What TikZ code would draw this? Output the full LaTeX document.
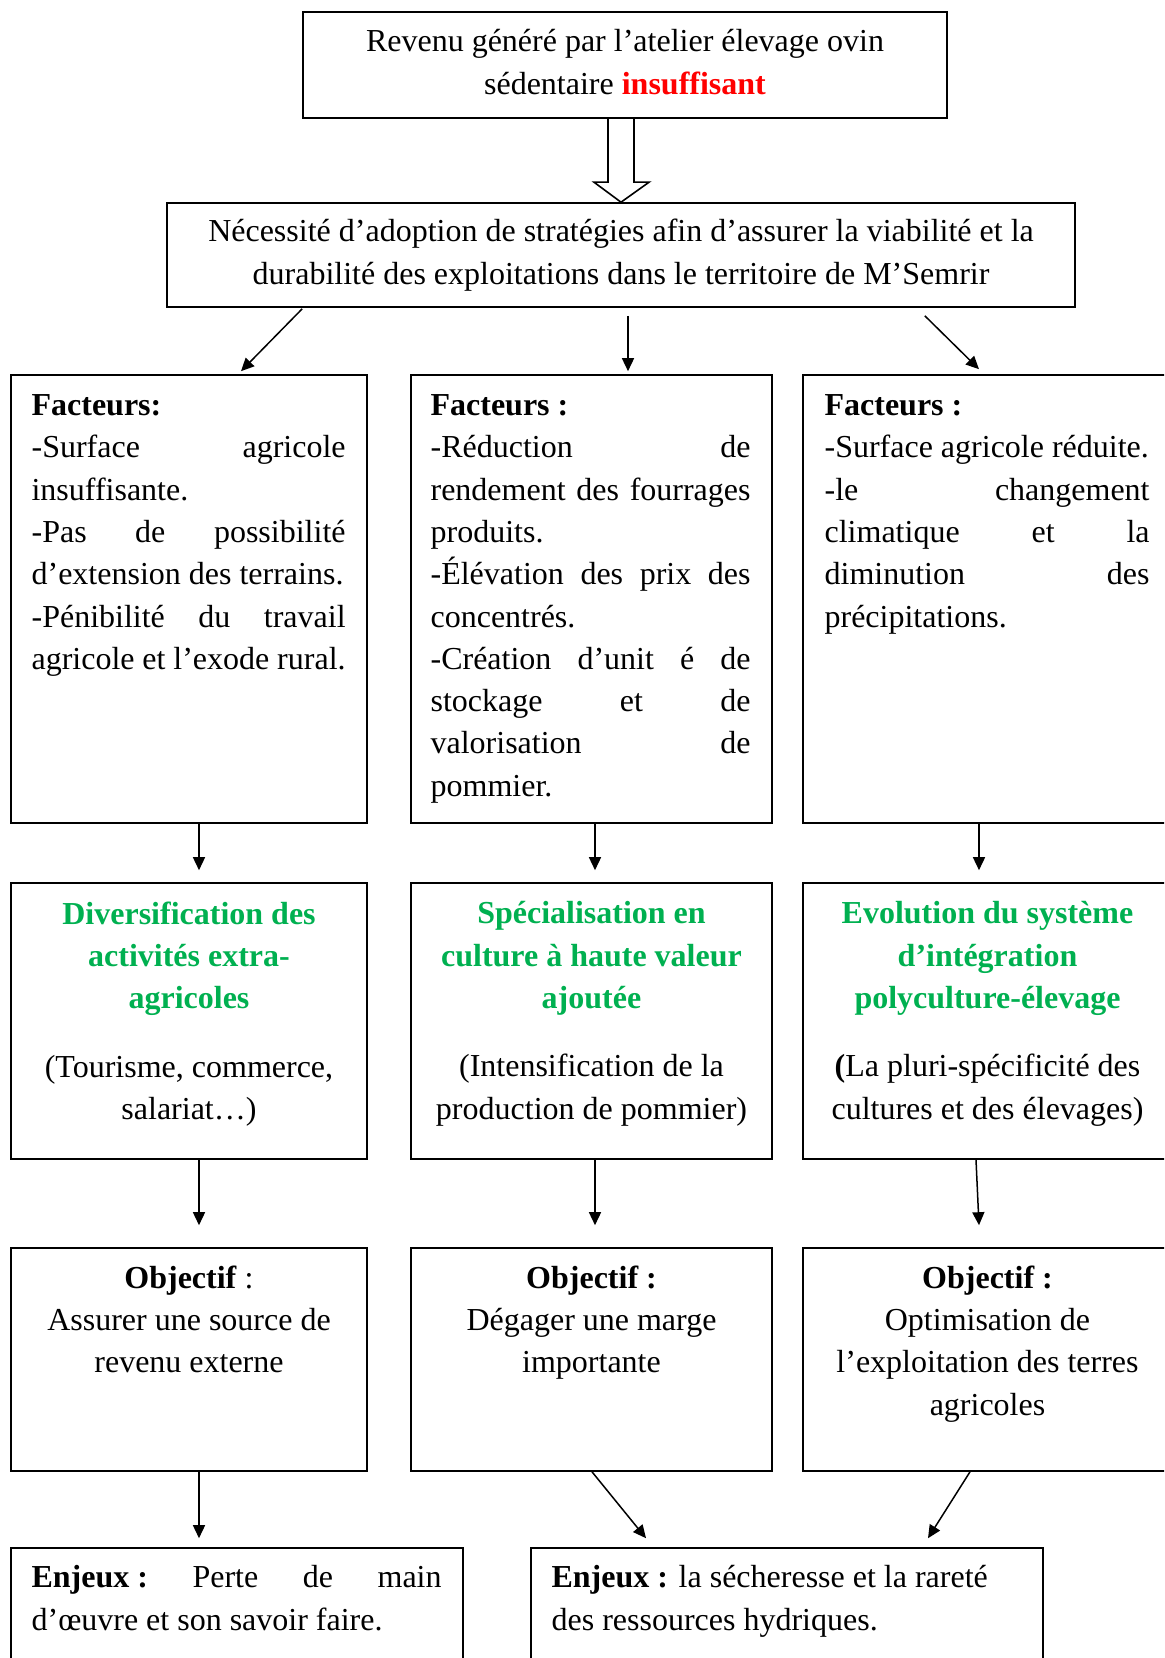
\documentclass[tikz,border=0pt]{standalone}
\usepackage{fontspec}
\setmainfont{Liberation Serif}
\usetikzlibrary{calc,arrows.meta}
\definecolor{vert}{HTML}{00B050}
\definecolor{rouge}{HTML}{FF0000}
\hyphenpenalty=10000
\exhyphenpenalty=10000
\setlength{\parindent}{0pt}

\tikzset{
  box/.style={draw, line width=0.8pt, inner sep=0pt},
  txt/.style={font=\fontsize{16}{21.15}\selectfont, inner sep=0pt},
  jtxt/.style={txt, align=justify, anchor=north west},
  ctxt/.style={txt, align=flush center, anchor=north, text width=172pt},
  arr/.style={line width=0.75pt, -{Triangle[length=6.5pt,width=6pt]}}
}

\begin{document}
\begin{tikzpicture}[x=0.5pt, y=-0.5pt]
    \useasboundingbox (0,0) rectangle (1164,1658);
    \clip (0,0) rectangle (1164,1658);

    % haut
    \node[box, minimum width=322pt, minimum height=53pt] (rev) at (625,65) {};
    \node[ctxt, text width=322pt] (revt) at ($(rev.north)+(0,18)$)
      {Revenu généré par l’atelier élevage ovin\\sédentaire {\color{rouge}\bfseries insuffisant}};
    \node[box, txt, align=center, minimum width=454pt, minimum height=52pt] (nec) at (621,255)
      {Nécessité d’adoption de stratégies afin d’assurer la viabilité et la\\durabilité des exploitations dans le territoire de M’Semrir};

    % facteurs
    \node[box, minimum width=178pt, minimum height=224pt] (fac1) at (189,599) {};
    \node[box, minimum width=180.5pt, minimum height=224pt] (fac2) at (591.5,599) {};
    \node[box, minimum width=184.5pt, minimum height=224pt] (fac3) at (987.5,599) {};
    \node[jtxt, text width=157pt] (fac1t) at ($(fac1.north west)+(21,20)$)
      {\textbf{Facteurs:}\par
       -Surface agricole\linebreak insuffisante.\par
       -Pas de possibilité\linebreak d’extension des terrains.\par
       -Pénibilité du travail\linebreak agricole et l’exode rural.};
    \node[jtxt, text width=160pt] (fac2t) at ($(fac2.north west)+(20,20)$)
      {\textbf{Facteurs :}\par
       -Réduction de\linebreak rendement des fourrages\linebreak produits.\par
       -Élévation des prix des\linebreak concentrés.\par
       -Création d’unit é de\linebreak stockage et de\linebreak valorisation de\linebreak pommier.};
    \node[jtxt, text width=162.5pt] (fac3t) at ($(fac3.north west)+(22,20)$)
      {\textbf{Facteurs :}\par
       -Surface agricole réduite.\par
       -le changement\linebreak climatique et la\linebreak diminution des\linebreak précipitations.};

    % strategies
    \node[box, minimum width=178pt, minimum height=138pt] (str1) at (189,1021) {};
    \node[box, minimum width=180.5pt, minimum height=138pt] (str2) at (591.5,1021) {};
    \node[box, minimum width=184.5pt, minimum height=138pt] (str3) at (987.5,1021) {};
    \node[ctxt] (str1t) at ($(str1.north)+(0,19)$)
      {{\color{vert}\bfseries Diversification des\\activités extra-\\agricoles}\\[13pt]
       (Tourisme, commerce,\\salariat…)};
    \node[ctxt] (str2t) at ($(str2.north)+(0,19)$)
      {{\color{vert}\bfseries Spécialisation en\\culture à haute valeur\\ajoutée}\\[13pt]
       (Intensification de la\\production de pommier)};
    \node[ctxt] (str3t) at ($(str3.north)+(0,19)$)
      {{\color{vert}\bfseries Evolution du système\\d’intégration\\polyculture-élevage}\\[13pt]
       \textbf{(}La pluri-spécificité des\\cultures et des élevages)};

    % objectifs
    \node[box, minimum width=178pt, minimum height=111.5pt] (obj1) at (189,1359.5) {};
    \node[box, minimum width=180.5pt, minimum height=111.5pt] (obj2) at (591.5,1359.5) {};
    \node[box, minimum width=184.5pt, minimum height=111.5pt] (obj3) at (987.5,1359.5) {};
    \node[ctxt] (obj1t) at ($(obj1.north)+(0,18)$)
      {\textbf{Objectif} :\\Assurer une source de\\revenu externe};
    \node[ctxt] (obj2t) at ($(obj2.north)+(0,18)$)
      {\textbf{Objectif :}\\Dégager une marge\\importante};
    \node[ctxt] (obj3t) at ($(obj3.north)+(0,18)$)
      {\textbf{Objectif :}\\Optimisation de\\l’exploitation des terres\\agricoles};

    % enjeux
    \node[box, minimum width=226pt, minimum height=76pt] (enj1) at (237,1624) {};
    \node[box, minimum width=256pt, minimum height=76pt] (enj2) at (787,1624) {};
    \node[jtxt, text width=205pt] (enj1t) at ($(enj1.north west)+(21,18)$)
      {\mbox{\textbf{Enjeux :}} Perte de main\linebreak d’œuvre et son savoir faire.};
    \node[jtxt, text width=235pt] (enj2t) at ($(enj2.north west)+(21,18)$)
      {\textbf{Enjeux :} la sécheresse et la rareté\\des ressources hydriques.};

    % fleche creuse
    \coordinate (pointe) at (nec.north);
    \draw[line width=0.8pt] ($(pointe |- rev.south)+(-13,0)$) -- ($(pointe)+(-13,-20)$)
      -- ($(pointe)+(-27,-20)$) -- (pointe) -- ($(pointe)+(28,-20)$)
      -- ($(pointe)+(13,-20)$) -- ($(pointe |- rev.south)+(13,0)$);

    % fleches
    \draw[arr] ($(nec.south west)+(136,1)$) -- ($(fac1.north)+(52,-3)$);
    \draw[arr] ($(nec.south)+(7,8)$) -- ($(fac2.north)+(36.5,-3)$);
    \draw[arr] ($(nec.south east)+(-151,8)$) -- ($(fac3.north)+(-8.5,-5)$);

    \draw[arr] ($(fac1.south)+(10,0)$) -- ($(str1.north)+(10,-12)$);
    \draw[arr] ($(fac2.south)+(3.5,0)$) -- ($(str2.north)+(3.5,-12)$);
    \draw[arr] ($(fac3.south)+(-8.5,0)$) -- ($(str3.north)+(-8.5,-12)$);

    \draw[arr] ($(str1.south)+(10,0)$) -- ($(obj1.north)+(10,-22)$);
    \draw[arr] ($(str2.south)+(3.5,0)$) -- ($(obj2.north)+(3.5,-22)$);
    \draw[arr] ($(str3.south)+(-11.5,0)$) -- ($(obj3.north)+(-8.5,-22)$);

    \draw[arr] ($(obj1.south)+(10,0)$) -- ($(enj1.north)+(-38,-9)$);
    \draw[arr] ($(obj2.south)+(0.5,0)$) -- ($(enj2.north)+(-141,-9)$);
    \draw[arr] ($(obj3.south)+(-17.5,0)$) -- ($(enj2.north)+(141,-9)$);
\end{tikzpicture}
\end{document}
